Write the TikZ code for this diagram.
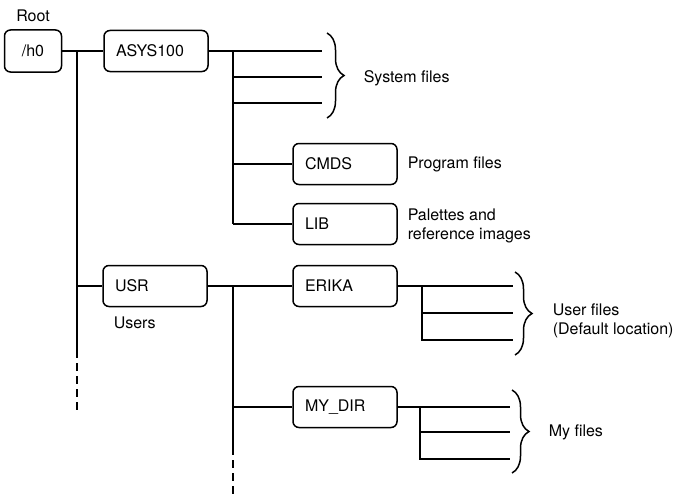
\documentclass[tikz,border=0pt]{standalone}
\usepackage{fontspec}
\setmainfont{TeX Gyre Heros}
\usetikzlibrary{positioning, decorations.pathreplacing}

\begin{document}
\begin{tikzpicture}[
    x=1pt, y=-1pt,
    line width=1.5pt,
    dir/.style={rectangle,draw,rounded corners=6pt,minimum width=104pt,minimum height=41pt,text width=80pt,align=left,font=\fontsize{16}{18}\selectfont},
    rootdir/.style={rectangle,draw,rounded corners=6pt,minimum width=57pt,minimum height=42pt,font=\fontsize{16}{18}\selectfont},
    note/.style={font=\fontsize{16}{19}\selectfont,align=left,inner sep=0pt,anchor=west},
    filebrace/.style={decorate,decoration={brace,amplitude=17pt}},
    dashpart/.style={dash pattern=on 8pt off 5pt}
]
\useasboundingbox (0,0) rectangle (687,495);

% directories
\node[rootdir] (h0) at (33,51) {/h0};
\node[note,above=7pt of h0] (rootlbl) {Root};
\node[dir] (asys) at (156,51) {ASYS100};
\node[dir] (cmds) at (345,164) {CMDS};
\node[dir] (lib) at (345,224) {LIB};
\node[dir] (usr) at (155,286) {USR};
\node[note,anchor=north west] (users) at (113,316) {Users};
\node[dir] (erika) at (345,286) {ERIKA};
\node[dir] (mydir) at (345,407) {MY\_DIR};

% root trunk
\coordinate (t1) at (77,51);
\coordinate (t1end) at (77,350);
\coordinate (t1dash) at (77,410);
\draw (h0) -- (asys);
\draw (t1) -- (t1end);
\draw[dashpart] (t1end) -- (t1dash);
\draw (t1 |- usr) -- (usr);

% ASYS100 branch
\coordinate (t2) at (233,51);
\coordinate (s1) at (322,51);
\coordinate (s2) at (322,77);
\coordinate (s3) at (322,103);
\draw (asys) -- (s1);
\draw (t2) -- (t2 |- lib);
\draw (t2 |- s2) -- (s2);
\draw (t2 |- s3) -- (s3);
\draw (t2 |- cmds) -- (cmds);
\draw (t2 |- lib) -- (lib);
\draw[filebrace] (327,33) -- (327,118);
\node[note] (sysfiles) at (363,78) {System files};
\node[note] (progfiles) at (407,164) {Program files};
\node[note] (palettes) at (407,226) {Palettes and\\reference images};

% USR branch
\coordinate (t3) at (233,286);
\coordinate (t3end) at (233,447);
\coordinate (t3dash) at (233,495);
\draw (usr) -- (erika);
\draw (t3) -- (t3end);
\draw[dashpart] (t3end) -- (t3dash);
\draw (t3 |- mydir) -- (mydir);

% ERIKA files
\coordinate (t4) at (422,286);
\coordinate (u1) at (513,286);
\coordinate (u2) at (513,313);
\coordinate (u3) at (513,340);
\draw (erika) -- (u1);
\draw (t4) -- (t4 |- u3) -- (u3);
\draw (t4 |- u2) -- (u2);
\draw[filebrace] (515,272) -- (515,355);
\node[note] (userfiles) at (552,321) {User files\\(Default location)};

% MY_DIR files
\coordinate (t5) at (420,407);
\coordinate (m1) at (510,407);
\coordinate (m2) at (510,432);
\coordinate (m3) at (510,459);
\draw (mydir) -- (m1);
\draw (t5) -- (t5 |- m3) -- (m3);
\draw (t5 |- m2) -- (m2);
\draw[filebrace] (512,390) -- (512,473);
\node[note] (myfiles) at (548,432) {My files};
\end{tikzpicture}
\end{document}
